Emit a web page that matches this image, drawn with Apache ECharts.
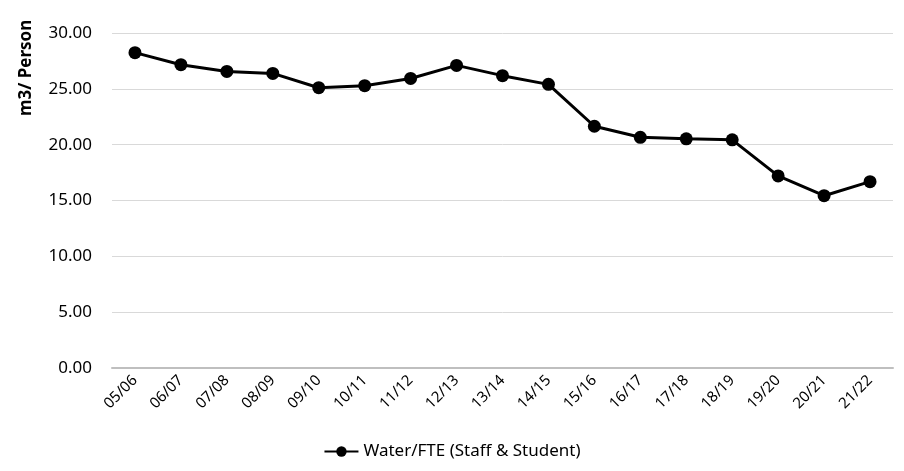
<!DOCTYPE html>
<html>
<head>
<meta charset="utf-8">
<script src="https://cdn.jsdelivr.net/npm/echarts@6/dist/echarts.min.js"></script>
<style>
  html, body { margin: 0; padding: 0; background: #fff; }
  #chart { width: 904px; height: 471px; }
</style>
</head>
<body>
<div id="chart"></div>
<script>
var years = ['05/06', '06/07', '07/08', '08/09', '09/10', '10/11', '11/12', '12/13', '13/14',
    '14/15', '15/16', '16/17', '17/18', '18/19', '19/20', '20/21', '21/22'];
var waterPerFte = [28.24, 27.16, 26.56, 26.38, 25.10, 25.28, 25.93, 27.10, 26.18,
    25.40, 21.65, 20.66, 20.52, 20.43, 17.20, 15.43, 16.69];
var seriesName = 'Water/FTE (Staff & Student)';

var fontFam = '"Noto Sans", "Open Sans", sans-serif';

var myChart = echarts.init(document.getElementById('chart'));
var option = {
    animation: false,
    textStyle: { fontFamily: fontFam },
    grid: { left: 112, right: 11, top: 33, bottom: 103 },
    // axis title sits near the top, not centred, so draw it by hand
    graphic: [{
        type: 'text',
        rotation: Math.PI / 2,
        x: 18, y: 116,
        style: {
            text: 'm3/ Person',
            font: 'bold 17px ' + fontFam,
            fill: '#000'
        }
    }],
    legend: {
        bottom: 6,
        left: 'center',
        data: [seriesName],
        itemWidth: 34,
        itemHeight: 13,
        textStyle: { fontSize: 17, color: '#000', fontFamily: fontFam }
    },
    xAxis: {
        type: 'category',
        data: years,
        boundaryGap: true,
        axisLine: { lineStyle: { color: '#bfbfbf', width: 2 } },
        axisTick: { show: false },
        axisLabel: { rotate: 45, color: '#000', fontSize: 15, margin: 10, interval: 0 }
    },
    yAxis: {
        type: 'value',
        min: 0,
        max: 30,
        interval: 5,
        axisLine: { show: false },
        axisTick: { show: false },
        axisLabel: {
            color: '#000', fontSize: 17, margin: 20,
            formatter: function (v) { return v.toFixed(2); }
        },
        splitLine: { lineStyle: { color: '#d9d9d9', width: 1 } }
    },
    series: [{
        name: seriesName,
        type: 'line',
        data: waterPerFte,
        symbol: 'circle',
        symbolSize: 13,
        lineStyle: { color: '#000', width: 3 },
        itemStyle: { color: '#000' }
    }]
};
myChart.setOption(option);
</script>
</body>
</html>
